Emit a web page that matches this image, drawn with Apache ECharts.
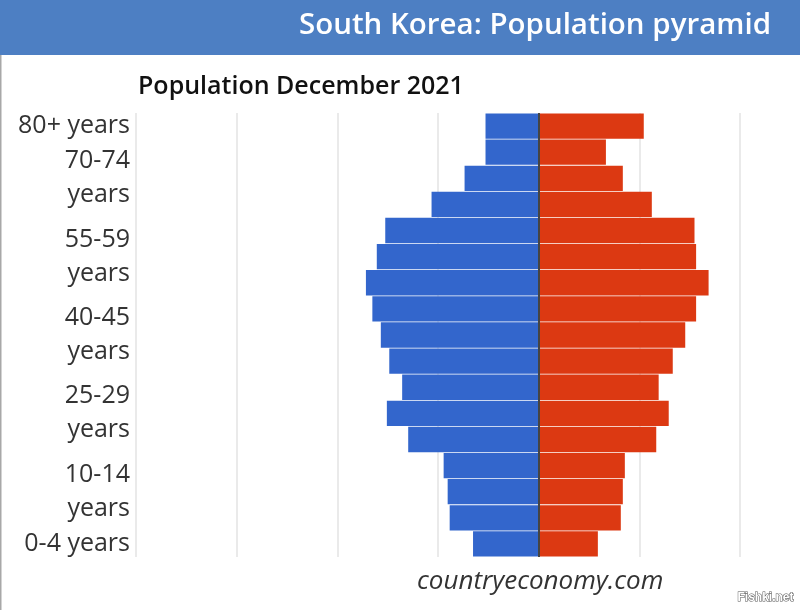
<!DOCTYPE html>
<html>
<head>
<meta charset="utf-8">
<script src="https://cdn.jsdelivr.net/npm/echarts@6/dist/echarts.min.js"></script>
<style>html,body{margin:0;padding:0;background:#fff}#c{width:800px;height:610px}</style>
</head>
<body>
<div id="c"></div>
<script>
const categories = ['0-4 years','5-9 years','10-14 years','15-19 years','20-24 years','25-29 years','30-34 years','35-39 years','40-45 years','45-49 years','50-54 years','55-59 years','60-64 years','65-69 years','70-74 years','75-79 years','80+ years'];
const men = [1.63,2.21,2.26,2.36,3.24,3.77,3.39,3.71,3.92,4.13,4.29,4.02,3.81,2.66,1.84,1.32,1.32];
const women = [1.47,2.04,2.09,2.14,2.92,3.23,2.98,3.33,3.64,3.91,4.22,3.91,3.87,2.81,2.09,1.67,2.61];
const shownLabels = {0:'0-4 years',2:'10-14\nyears',5:'25-29\nyears',8:'40-45\nyears',11:'55-59\nyears',14:'70-74\nyears',16:'80+ years'};

const chart = echarts.init(document.getElementById('c'));
chart.setOption({
  animation:false,
  backgroundColor:'#fff',
  graphic:[
    {type:'rect', z:0, shape:{x:0,y:0,width:800,height:55}, style:{fill:'#4d7fc3'}},
    {type:'rect', z:0, shape:{x:0,y:55,width:1.5,height:555}, style:{fill:'#a8a8a8'}},
    {type:'text', z:10, left:417, top:569, style:{text:'countryeconomy.com', font:'italic 26px "Open Sans"', fill:'#333'}},
    {type:'text', z:10, left:737, top:591, style:{text:'Fishki.net', font:'bold 12px "Liberation Sans"', fill:'#fff', stroke:'#555', lineWidth:1}}
  ],
  title:[
    {text:'South Korea: Population pyramid', right:24, top:6, textStyle:{color:'#fff', fontSize:29.5, fontWeight:600, fontFamily:'"Open Sans"'}},
    {text:'Population December 2021', left:133, top:69, textStyle:{color:'#111', fontSize:25, fontWeight:600, fontFamily:'"Open Sans"'}}
  ],
  grid:{left:136, right:60, top:113, bottom:53, containLabel:false},
  xAxis:{
    type:'value', min:-10, max:5, interval:2.5,
    axisLabel:{show:false}, axisLine:{show:false}, axisTick:{show:false},
    splitLine:{show:true, lineStyle:{color:'#e3e3e3', width:1.5}}
  },
  yAxis:{
    type:'category', data:categories,
    axisLine:{show:false}, axisTick:{show:false},
    axisLabel:{
      interval:(i)=>shownLabels.hasOwnProperty(i),
      formatter:(v,i)=>shownLabels[i]||'',
      hideOverlap:false, showMinLabel:true, showMaxLabel:true,
      color:'#333', fontSize:25, fontFamily:'"Open Sans"', lineHeight:34, margin:6, align:'right'
    }
  },
  series:[
    {name:'Men', type:'bar', stack:'p', data:men.map(v=>-v), barCategoryGap:'3%', itemStyle:{color:'#3366cc'},
     markLine:{silent:true, symbol:'none', label:{show:false}, lineStyle:{color:'#444', width:2, type:'solid'}, data:[{xAxis:0}]}},
    {name:'Women', type:'bar', stack:'p', data:women, barCategoryGap:'3%', itemStyle:{color:'#dc3912'}}
  ]
});
</script>
</body>
</html>
